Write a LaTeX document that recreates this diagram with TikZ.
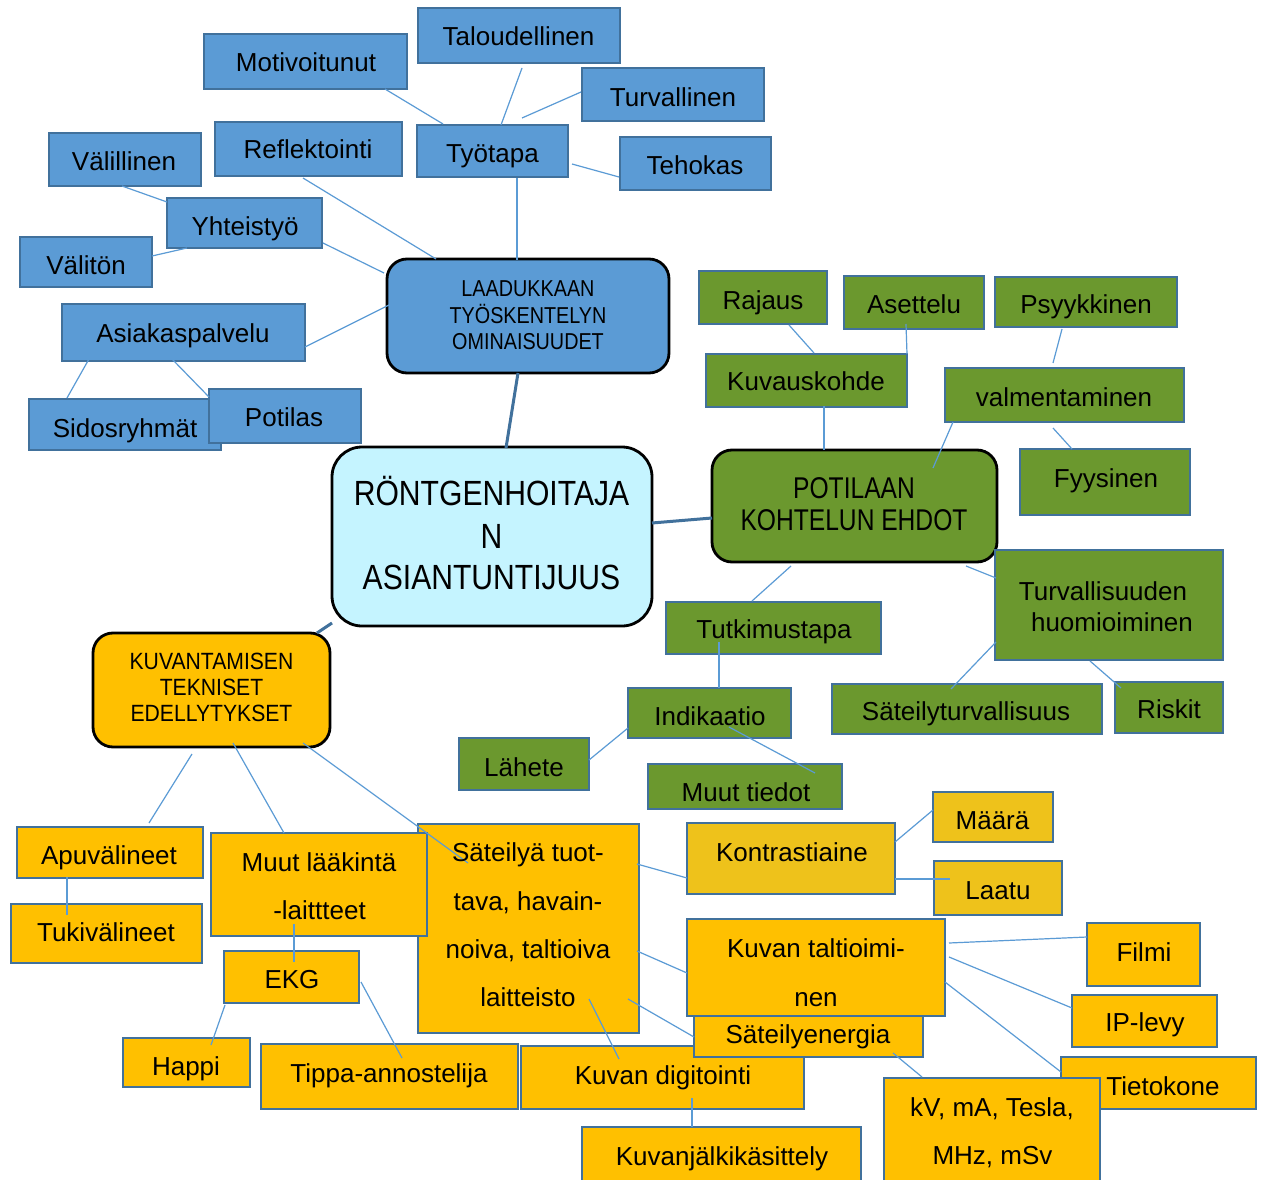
\documentclass[tikz,border=0pt]{standalone}
\usepackage{fontspec}
\setmainfont{Liberation Sans}
\newfontfamily\capsA{Liberation Sans}[FakeStretch=0.86]
\newfontfamily\capsB{Liberation Sans}[FakeStretch=0.82]
\newfontfamily\capsK{Liberation Sans}[FakeStretch=0.9]
\usetikzlibrary{calc}
\definecolor{bfill}{HTML}{5B9BD5}
\definecolor{bline}{HTML}{41719C}
\definecolor{gfill}{HTML}{6B982E}
\definecolor{ofill}{HTML}{FFC000}
\definecolor{gold}{HTML}{EEC21B}
\definecolor{cyanf}{HTML}{C5F4FF}
\definecolor{conc}{HTML}{5B9BD5}
\tikzset{
  basebox/.style={rectangle, inner sep=0pt, outer sep=0pt, anchor=north west, line width=2.5pt},
  bbox/.style={basebox, draw=bline, fill=bfill},
  gbox/.style={basebox, draw=bline, fill=gfill},
  obox/.style={basebox, draw=bline, fill=ofill},
  ybox/.style={basebox, draw=bline, fill=gold},
  rbox/.style={basebox, draw=black, line width=2.8pt, rounded corners=20pt},
  con/.style={draw=conc, line width=1.2pt},
  trunk/.style={draw=bline, line width=3pt},
  lbl/.style={inner sep=0pt, font=\fontsize{26}{30}\selectfont, text height=18.6pt, text depth=0pt},
  hdA/.style={inner sep=0pt, font=\capsA\fontsize{23}{26}\selectfont, text height=16.5pt, text depth=0pt},
  hdK/.style={inner sep=0pt, font=\capsK\fontsize{23.5}{26}\selectfont, text height=16.8pt, text depth=0pt},
  hdC/.style={inner sep=0pt, font=\capsA\fontsize{35}{40}\selectfont, text height=25pt, text depth=0pt},
  hdB/.style={inner sep=0pt, font=\capsB\fontsize{30}{34}\selectfont, text height=21.5pt, text depth=0pt},
}
\newcommand\bx[6]{%
  \expandafter\def\csname BX#2\endcsname{#3}%
  \expandafter\def\csname BY#2\endcsname{#4}%
  \node[#1, minimum width={(#5-#3)*1pt}, minimum height={(#6-#4)*1pt}] (#2) at (#3,#4) {};}
\newcommand\cn[7][con]{\draw[#1] ($(#2.north west)+({#3-\csname BX#2\endcsname},{#4-\csname BY#2\endcsname})$) -- ($(#5.north west)+({#6-\csname BX#5\endcsname},{#7-\csname BY#5\endcsname})$);}
\newcommand\tx[5][lbl]{\node[#1] (t-#2) at (#3,#4) {#5};}
\begin{document}
\begin{tikzpicture}[x=1pt,y=-1pt]
\useasboundingbox (0,0) rectangle (1264,1180);
\clip (0,0) rectangle (1264,1180);
\fill[white] (0,0) rectangle (1264,1180);
% ---------- blue boxes
\bx{bbox}{tal}{418}{8}{620}{63}
\bx{bbox}{mot}{204}{34}{407}{89}
\bx{bbox}{tur}{582}{68}{764}{121}
\bx{bbox}{tyo}{417}{125}{568}{177}
\bx{bbox}{teh}{620}{137}{771}{190}
\bx{bbox}{ref}{215}{122}{402}{176}
\bx{bbox}{vll}{49}{133}{201}{186}
\bx{bbox}{yht}{167}{198}{322}{248}
\bx{bbox}{vlt}{20}{237}{152}{287}
\bx{bbox}{asi}{62}{304}{305}{361}
\bx{bbox}{sid}{29}{399}{221}{450}
\bx{bbox}{pot}{209}{389}{361}{443}
\bx{rbox,fill=bfill}{laa}{387}{259}{669}{373}
% ---------- centre
\bx{rbox,fill=cyanf,rounded corners=30pt}{cen}{332}{447}{652}{626}
% ---------- green boxes
\bx{gbox}{raj}{699}{271}{827}{324}
\bx{gbox}{ase}{844}{276}{984}{329}
\bx{gbox}{psy}{995}{277}{1177}{327}
\bx{gbox}{kuv}{706}{354}{907}{407}
\bx{gbox}{val}{945}{368}{1184}{422}
\bx{rbox,fill=gfill}{pk}{712}{450}{997}{562}
\bx{gbox}{fyy}{1020}{449}{1190}{515}
\bx{gbox}{tvh}{995}{550}{1223}{660}
\bx{gbox}{tut}{666}{602}{881}{654}
\bx{gbox}{ind}{628}{688}{791}{738}
\bx{gbox}{sat}{832}{684}{1102}{734}
\bx{gbox}{ris}{1115}{682}{1223}{733}
\bx{gbox}{lah}{459}{738}{589}{790}
\bx{gbox}{mtd}{648}{764}{842}{809}
% ---------- orange boxes
\bx{rbox,fill=ofill}{kt}{93}{633}{330}{747}
\bx{obox}{apu}{17}{827}{203}{878}
\bx{obox}{tuk}{11}{904}{202}{963}
\bx{obox}{stt}{418}{824}{639}{1033}
\bx{obox}{mlk}{211}{833}{427}{936}
\bx{obox}{ekg}{224}{951}{359}{1003}
\bx{obox}{hap}{123}{1038}{250}{1087}
\bx{obox}{tip}{261}{1044}{518}{1109}
\bx{obox}{kdi}{521}{1046}{804}{1109}
\bx{obox}{ktl}{687}{919}{945}{1016}
\bx{obox}{sen}{694}{1016}{923}{1057}
\bx{ybox}{kon}{687}{823}{895}{894}
\bx{ybox}{maa}{933}{792}{1053}{842}
\bx{ybox}{lat}{934}{861}{1062}{915}
\bx{obox}{fil}{1087}{923}{1200}{986}
\bx{obox}{ipl}{1072}{995}{1217}{1047}
\bx{obox}{tie}{1061}{1057}{1256}{1109}
\bx{obox}{kvm}{884}{1078}{1100}{1195}
\bx{obox}{kjk}{582}{1127}{861}{1195}
% ---------- connectors
\cn{mot}{385}{89}{tyo}{443}{124}
\cn{tal}{522}{68}{tyo}{501}{125}
\cn{tur}{581}{92}{tyo}{522}{118}
\cn{tyo}{572}{164}{teh}{619}{177}
\cn{tyo}{517}{178}{laa}{517}{260}
\cn{ref}{303}{178}{laa}{436}{259}
\cn{vll}{122}{186}{yht}{167}{202}
\cn{yht}{187}{248}{vlt}{152}{256}
\cn{yht}{323}{243}{laa}{384}{273}
\cn{asi}{305}{347}{laa}{389}{305}
\cn{asi}{89}{359}{sid}{67}{398}
\cn{asi}{172}{359}{pot}{209}{397}
\cn[trunk]{laa}{518}{373}{cen}{506}{448}
\cn[trunk]{cen}{652}{523}{pk}{712}{518}
\cn[trunk]{cen}{332}{623}{kt}{317}{633}
\cn{raj}{789}{325}{kuv}{814}{353}
\cn{ase}{906}{324}{kuv}{907}{354}
\cn{kuv}{824}{406}{pk}{824}{450}
\cn{psy}{1062}{329}{val}{1053}{363}
\cn{val}{953}{422}{pk}{933}{468}
\cn{val}{1053}{428}{fyy}{1072}{449}
\cn{pk}{791}{566}{tut}{752}{601}
\cn{pk}{966}{566}{tvh}{996}{578}
\cn{tut}{719}{642}{ind}{719}{688}
\cn{tvh}{996}{642}{sat}{951}{689}
\cn{tvh}{1090}{661}{ris}{1121}{688}
\cn{ind}{628}{728}{lah}{589}{760}
\cn{ind}{729}{727}{mtd}{815}{773}
\cn{kt}{192}{754}{apu}{149}{823}
\cn{kt}{233}{743}{mlk}{284}{833}
\cn{kt}{303}{743}{stt}{468}{863}
\cn{apu}{67}{877}{tuk}{67}{915}
\cn{mlk}{294}{924}{ekg}{294}{962}
\cn{ekg}{225}{1005}{hap}{211}{1045}
\cn{ekg}{361}{982}{tip}{402}{1058}
\cn{stt}{637}{864}{kon}{687}{878}
\cn{stt}{637}{951}{ktl}{687}{973}
\cn{stt}{628}{999}{sen}{694}{1037}
\cn{stt}{589}{999}{kdi}{619}{1059}
\cn{kdi}{692}{1098}{kjk}{692}{1127}
\cn{kon}{895}{842}{maa}{933}{810}
\cn{kon}{895}{879}{lat}{950}{879}
\cn{ktl}{949}{943}{fil}{1087}{937}
\cn{ktl}{949}{957}{ipl}{1072}{1008}
\cn{ktl}{945}{982}{tie}{1061}{1072}
\cn{sen}{893}{1053}{kvm}{922}{1077}
% ---------- texts
\tx{tal}{518.5}{36}{Taloudellinen}
\tx{mot}{306}{62.5}{Motivoitunut}
\tx{tur}{673}{97}{Turvallinen}
\tx{tyo}{492.5}{153}{Työtapa}
\tx{teh}{695}{165}{Tehokas}
\tx{ref}{308}{149}{Reflektointi}
\tx{vll}{124}{161}{Välillinen}
\tx{yht}{245}{226}{Yhteistyö}
\tx{vlt}{86}{265}{Välitön}
\tx{asi}{183}{333}{Asiakaspalvelu}
\tx{sid}{125}{428}{Sidosryhmät}
\tx{pot}{284}{417}{Potilas}
\tx[hdA]{laa-1}{528}{288}{LAADUKKAAN}
\tx[hdA]{laa-2}{528}{315}{TYÖSKENTELYN}
\tx[hdA]{laa-3}{528}{341}{OMINAISUUDET}
\tx[hdC]{cen-1}{491.5}{493}{RÖNTGENHOITAJA}
\tx[hdC]{cen-2}{491.5}{536}{N}
\tx[hdC]{cen-3}{491.5}{577}{ASIANTUNTIJUUS}
\tx{raj}{763}{300}{Rajaus}
\tx{ase}{914}{304}{Asettelu}
\tx{psy}{1086}{304.5}{Psyykkinen}
\tx{kuv}{806}{381}{Kuvauskohde}
\tx{val}{1064}{397.5}{valmentaminen}
\tx[hdB]{pk-1}{854}{488}{POTILAAN}
\tx[hdB]{pk-2}{854}{520}{KOHTELUN EHDOT}
\tx{fyy}{1106}{478}{Fyysinen}
\tx{tvh-1}{1103}{591}{Turvallisuuden}
\tx{tvh-2}{1112}{622.5}{huomioiminen}
\tx{tut}{774}{629.5}{Tutkimustapa}
\tx{ind}{710}{716}{Indikaatio}
\tx{sat}{966}{711}{Säteilyturvallisuus}
\tx{ris}{1169}{709}{Riskit}
\tx{lah}{524}{767}{Lähete}
\tx{mtd}{746}{792}{Muut tiedot}
\tx[hdK]{kt-1}{211.5}{661}{KUVANTAMISEN}
\tx[hdK]{kt-2}{211.5}{687}{TEKNISET}
\tx[hdK]{kt-3}{211.5}{713}{EDELLYTYKSET}
\tx{apu}{109}{855}{Apuvälineet}
\tx{tuk}{106}{932}{Tukivälineet}
\tx{mlk-1}{319}{862}{Muut lääkintä}
\tx{mlk-2}{319.5}{910}{-laittteet}
\tx{ekg}{292}{979}{EKG}
\tx{hap}{186}{1066}{Happi}
\tx{tip}{389}{1073}{Tippa-annostelija}
\tx{stt-1}{528}{852}{Säteilyä tuot-}
\tx{stt-2}{528}{901}{tava, havain-}
\tx{stt-3}{528}{949}{noiva, taltioiva}
\tx{stt-4}{528}{997}{laitteisto}
\tx{kon}{792}{852}{Kontrastiaine}
\tx{maa}{992.5}{820}{Määrä}
\tx{lat}{998}{890}{Laatu}
\tx{ktl-1}{816}{948}{Kuvan taltioimi-}
\tx{ktl-2}{816}{997}{nen}
\tx{sen}{808}{1034}{Säteilyenergia}
\tx{kdi}{663}{1075}{Kuvan digitointi}
\tx{kjk}{722}{1156}{Kuvanjälkikäsittely}
\tx{fil}{1144}{952}{Filmi}
\tx{ipl}{1145}{1022}{IP-levy}
\tx{tie}{1163}{1086}{Tietokone}
\tx{kvm-1}{992}{1107}{kV, mA, Tesla,}
\tx{kvm-2}{992.5}{1155}{MHz, mSv}
\end{tikzpicture}
\end{document}
